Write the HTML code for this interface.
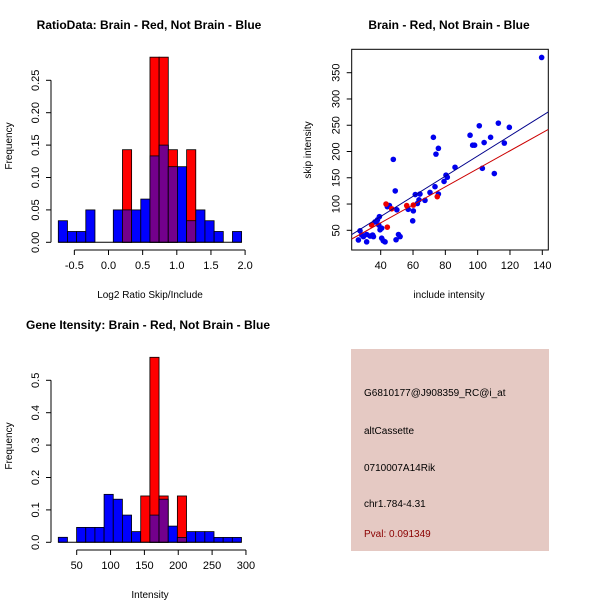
<!DOCTYPE html>
<html><head><meta charset="utf-8"><style>
body{margin:0;background:#fff}
svg{display:block;font-family:"Liberation Sans",sans-serif}
</style></head><body>
<svg id="c" width="600" height="600" xmlns="http://www.w3.org/2000/svg"></svg>
<script>
// Panel 1: ratio histogram
const ratioBinStart = -0.735, ratioBinWidth = 0.1342;
const ratioBlue = [0.0333,0.0167,0.0167,0.05,0,0,0.05,0.05,0.05,0.0667,0.1333,0.15,0.1167,0.1167,0.0333,0.05,0.0333,0.0167,0,0.0167];
const ratioRed  = [0,0,0,0,0,0,0,0.1429,0,0,0.2857,0.2857,0.1429,0,0.1429,0,0,0,0,0];
const ratioXTicks = [-0.5,0.0,0.5,1.0,1.5,2.0];
const ratioXLabels = ["-0.5","0.0","0.5","1.0","1.5","2.0"];
const ratioYTicks = [0,0.05,0.10,0.15,0.20,0.25];
const ratioYLabels = ["0.00","0.05","0.10","0.15","0.20","0.25"];
// Panel 3: intensity histogram
const intBinStart = 22.8, intBinWidth = 13.53;
const intBlue = [0.0154,0,0.046,0.046,0.046,0.148,0.133,0.084,0.033,0,0.084,0.133,0.05,0.015,0.033,0.033,0.033,0.015,0.015,0.015];
const intRed  = [0,0,0,0,0,0,0,0,0,0.143,0.571,0.143,0,0.143,0,0,0,0,0,0];
const intXTicks = [50,100,150,200,250,300];
const intYTicks = [0,0.1,0.2,0.3,0.4,0.5];
const intYLabels = ["0.0","0.1","0.2","0.3","0.4","0.5"];
// Panel 2: scatter
const blueX = [26.2,27.2,28.2,29.3,31.3,31.3,33.4,35,35.5,36.5,38,39.2,38.8,39.6,40.6,40.6,41.6,42.7,44.1,45.4,47.8,49,50,49.5,51,52,57,59.8,60.2,61.4,62.7,63.7,64.3,67.4,70.5,72.6,73.6,74.2,75.7,75.7,79.2,80.4,81.2,86,95.3,96.9,98.1,101,102.9,104,108,110.3,112.8,116.5,119.6,139.6];
const blueY = [31.6,49,41,38,28,42,39,41,38,66,70,76,60,51,54,35,30,28,95,97,185,125,89,32,42,38,90,68,87,118,101,108,119,107,122,227,133,195,206,119,143,155,151,170,231,212,212,249,168,217,227,158,254,216,246,379];
const redX = [34.4,43.3,44.1,46.8,56.1,60.2,75];
const redY = [60,100,56,91,97,98,114];
const blueFit = [-0.5,1.92];   // intercept, slope
const redFit = [-4.4,1.715];
const scX = [40,60,80,100,120,140];
const scY = [50,100,150,200,250,300,350];

const S = document.getElementById('c');
const NS = 'http://www.w3.org/2000/svg';
function el(tag, attrs, parent){const e=document.createElementNS(NS,tag);for(const k in attrs)e.setAttribute(k,attrs[k]);(parent||S).appendChild(e);return e;}
function txt(x,y,s,attrs){const t=el('text',Object.assign({x:x,y:y},attrs||{}));t.textContent=s;return t;}

const PURPLE='#73008c';
function hist(g, blue, red, start, width, xs, ys){
  for(let i=0;i<blue.length;i++){
    const x0=xs(start+i*width), x1=xs(start+(i+1)*width);
    const b=blue[i], r=red[i];
    if(b>0){const e=el('rect',{x:x0,y:ys(b),width:x1-x0,height:ys(0)-ys(b),fill:'#0000ff',stroke:'#000','stroke-width':0.8},g);
      
      }
    if(r>0){const e=el('rect',{x:x0,y:ys(r),width:x1-x0,height:ys(0)-ys(r),fill:'#ff0000',stroke:'#000','stroke-width':0.8},g);
      
      }
    if(r>0&&b>0){const m=Math.min(r,b);const e=el('rect',{x:x0,y:ys(m),width:x1-x0,height:ys(0)-ys(m),fill:PURPLE,stroke:'#000','stroke-width':0.8},g);
      
      }
  }
  el('line',{x1:xs(start),x2:xs(start+blue.length*width),y1:ys(0),y2:ys(0),stroke:'#000'},g);
}
function xAxis(g, ticks, labels, xs, y){
  el('line',{x1:xs(ticks[0]),x2:xs(ticks[ticks.length-1]),y1:y,y2:y,stroke:'#000'},g);
  ticks.forEach((t,i)=>{el('line',{x1:xs(t),x2:xs(t),y1:y,y2:y+5,stroke:'#000'},g);
    txt(xs(t),y+19,labels[i],{'font-size':11,'text-anchor':'middle'});});
}
function yAxis(g, ticks, labels, ys, x){
  el('line',{x1:x,x2:x,y1:ys(ticks[0]),y2:ys(ticks[ticks.length-1]),stroke:'#000'},g);
  ticks.forEach((t,i)=>{el('line',{x1:x-5,x2:x,y1:ys(t),y2:ys(t),stroke:'#000'},g);
    txt(x-12,ys(t),labels[i],{'font-size':11,'text-anchor':'middle',transform:`rotate(-90 ${x-12} ${ys(t)})`});});
}

// Panel 1
{
  const g=el('g',{});
  const xs=v=>108.5+v*68.3, ys=v=>242.3-v*648;
  hist(g,ratioBlue,ratioRed,ratioBinStart,ratioBinWidth,xs,ys);
  xAxis(g,ratioXTicks,ratioXLabels,xs,250);
  yAxis(g,ratioYTicks,ratioYLabels,ys,51);
  const t=txt(149,29,'RatioData: Brain - Red, Not Brain - Blue',{'font-size':12,'font-weight':'bold','text-anchor':'middle'});
  
  txt(150,298,'Log2 Ratio Skip/Include',{'font-size':10,'text-anchor':'middle'});
  txt(12,146,'Frequency',{'font-size':10,'text-anchor':'middle',transform:'rotate(-90 12 146)'});
}
// Panel 3
{
  const g=el('g',{});
  const xs=v=>76.7+(v-50)*0.677, ys=v=>542.3-v*324;
  hist(g,intBlue,intRed,intBinStart,intBinWidth,xs,ys);
  xAxis(g,intXTicks,intXTicks.map(String),xs,550);
  yAxis(g,intYTicks,intYLabels,ys,51);
  const t=txt(148,329,'Gene Itensity: Brain - Red, Not Brain - Blue',{'font-size':12,'font-weight':'bold','text-anchor':'middle'});
  
  txt(150,598,'Intensity',{'font-size':10,'text-anchor':'middle'});
  txt(12,446,'Frequency',{'font-size':10,'text-anchor':'middle',transform:'rotate(-90 12 446)'});
}
// Panel 2
{
  const g=el('g',{});
  const xs=v=>380.7+(v-40)*1.616, ys=v=>230.3-(v-50)*0.5253;
  const L=351.7,R=548.3,T=49.3,B=250;
  el('defs',{}).innerHTML=`<clipPath id="cp"><rect x="${L}" y="${T}" width="${R-L}" height="${B-T}"/></clipPath>`;
  el('rect',{x:L,y:T,width:R-L,height:B-T,fill:'none',stroke:'#000'},g);
  const xmin=(L-380.7)/1.616+40, xmax=(R-380.7)/1.616+40;
  const cg=el('g',{'clip-path':'url(#cp)'},g);
  blueX.forEach((x,i)=>{const c=el('circle',{cx:xs(x),cy:ys(blueY[i]),r:2.8,fill:'#0000ee'},cg);
    });
  redX.forEach((x,i)=>{const c=el('circle',{cx:xs(x),cy:ys(redY[i]),r:2.8,fill:'#ee0000'},cg);
    });
  const bl=el('line',{x1:xs(xmin),y1:ys(blueFit[0]+blueFit[1]*xmin),x2:xs(xmax),y2:ys(blueFit[0]+blueFit[1]*xmax),stroke:'#00008b','stroke-width':1},cg);
  
  const rl=el('line',{x1:xs(xmin),y1:ys(redFit[0]+redFit[1]*xmin),x2:xs(xmax),y2:ys(redFit[0]+redFit[1]*xmax),stroke:'#cc0000','stroke-width':1},cg);
  
  scX.forEach(t=>{el('line',{x1:xs(t),x2:xs(t),y1:B,y2:B+5,stroke:'#000'},g);txt(xs(t),B+19,String(t),{'font-size':11,'text-anchor':'middle'});});
  scY.forEach(t=>{el('line',{x1:L-5,x2:L,y1:ys(t),y2:ys(t),stroke:'#000'},g);
    txt(L-12,ys(t),String(t),{'font-size':11,'text-anchor':'middle',transform:`rotate(-90 ${L-12} ${ys(t)})`});});
  const t=txt(449,29,'Brain - Red, Not Brain - Blue',{'font-size':12,'font-weight':'bold','text-anchor':'middle'});
  
  txt(449,298,'include intensity',{'font-size':10,'text-anchor':'middle'});
  txt(311,150,'skip intensity',{'font-size':10,'text-anchor':'middle',transform:'rotate(-90 311 150)'});
}
// Info box
{
  const g=el('g',{});
  el('rect',{x:351,y:349,width:198,height:202,fill:'#e5c9c3'},g);
  const lines=[['G6810177@J908359_RC@i_at',396,'#000'],['altCassette',434,'#000'],['0710007A14Rik',471,'#000'],['chr1.784-4.31',507,'#000'],['Pval: 0.091349',537,'#8b0000']];
  lines.forEach(l=>{const t=txt(364,l[1],l[0],{'font-size':10,fill:l[2]});
    });
}
</script>
</body></html>
